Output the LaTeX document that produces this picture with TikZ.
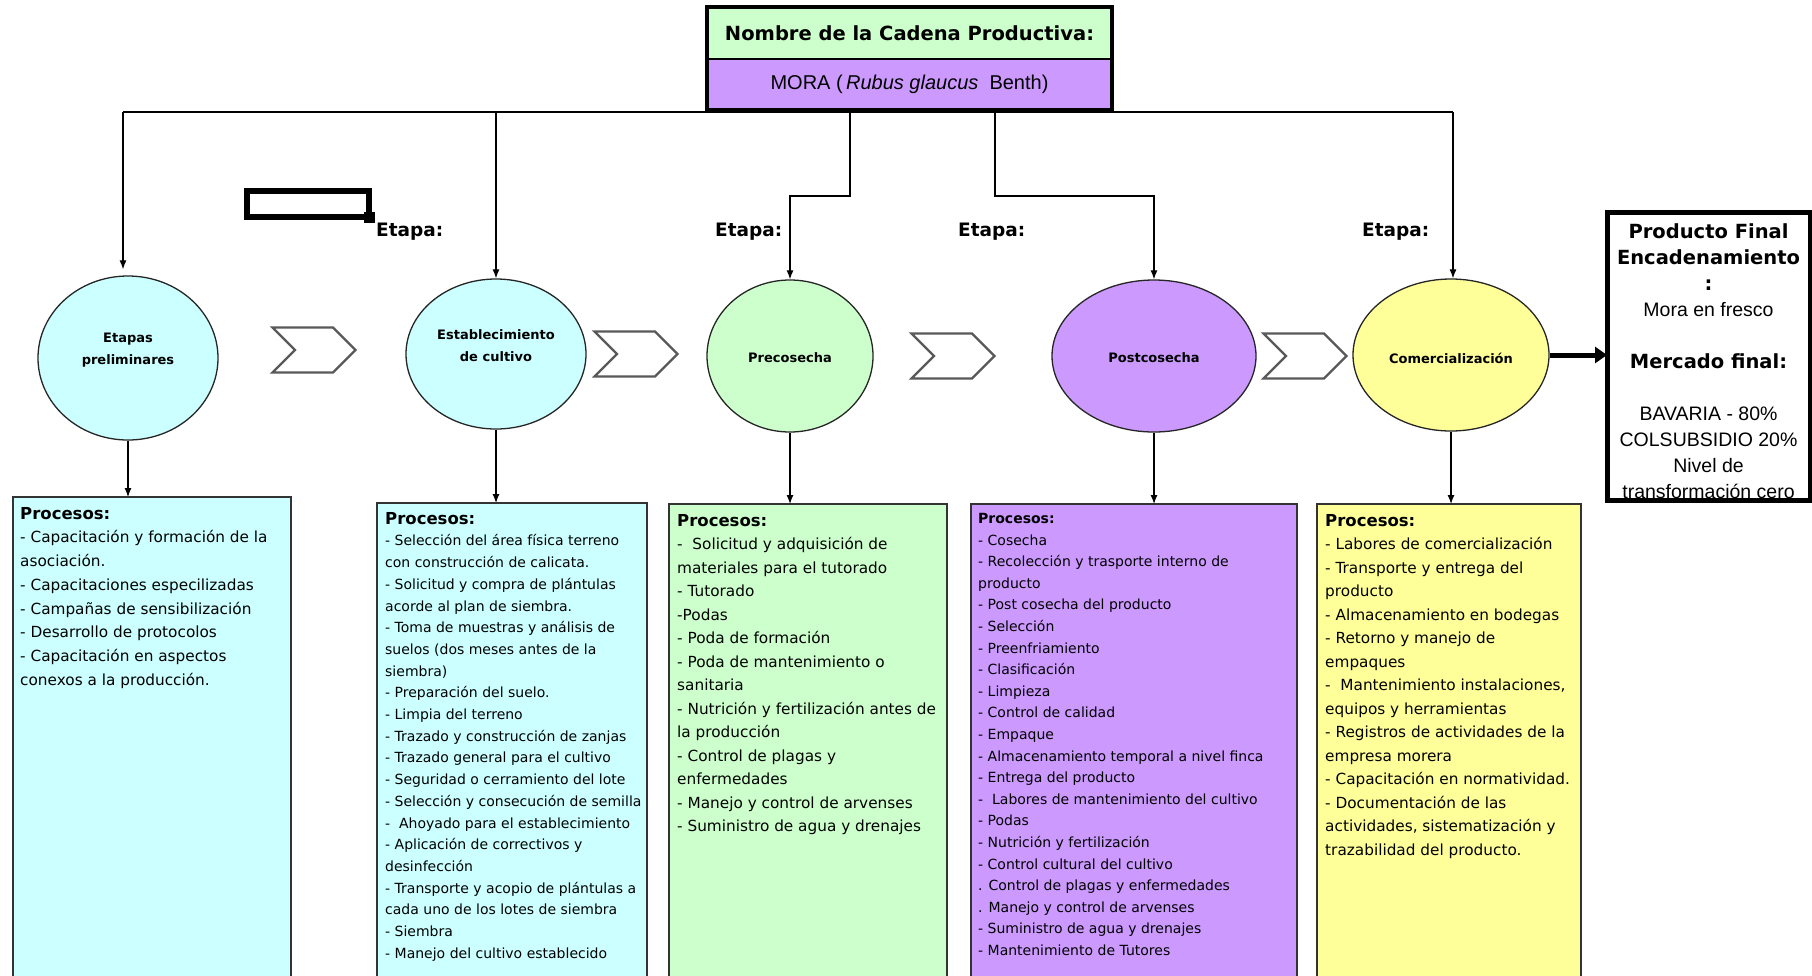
\documentclass[tikz,border=0pt]{standalone}
\usepackage{fontspec}
\setmainfont{DejaVu Sans}
\newfontfamily\arialf{Liberation Sans}
\usepackage{tikz}
\usetikzlibrary{shapes.geometric,shapes.symbols,arrows.meta,positioning,calc}

\definecolor{celeste}{RGB}{204,255,255}
\definecolor{verdeclaro}{RGB}{204,255,204}
\definecolor{lila}{RGB}{204,153,255}
\definecolor{amarillo}{RGB}{255,255,153}

\newcommand{\encab}[1]{{\fontsize{16.5}{23.7}\selectfont\bfseries #1}}

\begin{document}
\begin{tikzpicture}[x=1pt, y=-1pt,
    etapa/.style={ellipse, draw=black!85, line width=1.3pt, inner sep=0pt},
    etiq/.style={align=center, inner sep=0pt, font=\fontsize{13}{22}\selectfont\bfseries},
    flecha/.style={signal, signal from=west, signal to=east, draw=black!65, line width=2.2pt, fill=white, minimum width=83pt, minimum height=45pt, inner sep=0pt},
    caja/.style={draw=black!80, line width=1.8pt, anchor=north west, inner sep=0pt, outer sep=0pt},
    texto/.style={anchor=north west, inner sep=0pt, align=left},
    rotulo/.style={anchor=base west, inner sep=0pt, font=\fontsize{18.5}{22}\selectfont\bfseries},
    conn/.style={line width=1.2pt, -{Latex[length=9pt, width=7pt]}},
    linea/.style={line width=1.2pt}]
    \path[use as bounding box, fill=white] (0,0) rectangle (1812,975);

    % Ramas desde la cadena
    \coordinate (hl) at (123,112);
    \coordinate (hr) at (1453,112);
    \coordinate (r3) at (850,112);
    \coordinate (r4) at (995,112);
    \draw[linea] (hl) -- (hr);

    % Nombre de la cadena
    \node[draw=black, line width=1.5pt, outer sep=0pt, fill=verdeclaro, minimum width=405pt, minimum height=52pt, anchor=north west, font=\fontsize{19.5}{22}\selectfont\bfseries] (cadena) at (707,7) {Nombre de la Cadena Productiva:};
    \node[draw=black, line width=1.5pt, outer sep=0pt, fill=lila, minimum width=405pt, minimum height=51pt, anchor=north west, font=\arialf\fontsize{20}{22}\selectfont] (mora) at (cadena.south west) {MORA (\,\textit{Rubus glaucus}\ \ Benth)};
    \draw[line width=4pt] (cadena.north west) rectangle (mora.south east);

    % Etapas
    \node[etapa, fill=celeste, minimum width=180pt, minimum height=164pt, label={[etiq, yshift=8pt]center:Etapas\\preliminares}] (e1) at (128,358) {};
    \node[etapa, fill=celeste, minimum width=180pt, minimum height=150pt, label={[etiq, yshift=8pt]center:Establecimiento\\de cultivo}] (e2) at (496,354) {};
    \node[etapa, fill=verdeclaro, minimum width=166pt, minimum height=152pt, label={[etiq, yshift=-2pt]center:Precosecha}] (e3) at (790,356) {};
    \node[etapa, fill=lila, minimum width=204pt, minimum height=152pt, label={[etiq, yshift=-2pt]center:Postcosecha}] (e4) at (1154,356) {};
    \node[etapa, fill=amarillo, minimum width=196pt, minimum height=152pt, label={[etiq, yshift=-3pt]center:Comercialización}] (e5) at (1451,355) {};

    \draw[conn, shorten >=6pt] (hl) -- (hl |- e1.north);
    \draw[conn] (e2.north |- hl) -- (e2.north);
    \draw[conn] (r3) -- ++(0,84) -| (e3.north);
    \draw[conn] (r4) -- ++(0,84) -| (e4.north);
    \draw[conn] (hr) -- (hr |- e5.north);

    % Flechas entre etapas
    \node[flecha] (c1) at (314,350) {};
    \node[flecha] (c2) at (636,354) {};
    \node[flecha] (c3) at (953,356) {};
    \node[flecha] (c4) at (1305,356) {};

    \node[rotulo] (et1) at (376,236) {Etapa:};
    \node[rotulo] (et2) at (715,236) {Etapa:};
    \node[rotulo] (et3) at (958,236) {Etapa:};
    \node[rotulo] (et4) at (1362,236) {Etapa:};

    \node[draw, line width=6pt, outer sep=0pt, minimum width=122pt, minimum height=26pt, anchor=north west, inner sep=0pt] (marco) at (247,191) {};
    \node[fill=black, minimum size=11pt, inner sep=0pt] (asa) at (marco.south east) {};

    % Procesos
    \node[caja, fill=celeste, minimum width=278pt, minimum height=495pt] (p1) at (13,497) {};
    \node[caja, fill=celeste, minimum width=270pt, minimum height=490pt] (p2) at (377,503) {};
    \node[caja, fill=verdeclaro, minimum width=278pt, minimum height=490pt] (p3) at (669,504) {};
    \node[caja, fill=lila, minimum width=326pt, minimum height=490pt] (p4) at (971,504) {};
    \node[caja, fill=amarillo, minimum width=264pt, minimum height=490pt] (p5) at (1317,504) {};

    \draw[conn] (e1.south) -- (e1.south |- p1.north);
    \draw[conn] (e2.south) -- (e2.south |- p2.north);
    \draw[conn] (e3.south) -- (e3.south |- p3.north);
    \draw[conn] (e4.south) -- (e4.south |- p4.north);
    \draw[conn] (e5.south) -- (e5.south |- p5.north);

    \node[texto, font=\fontsize{15.3}{23.7}\selectfont] (t1) at ($(p1.north west)+(7,10)$) {\encab{Procesos:}\\- Capacitación y formación de la\\asociación.\\- Capacitaciones especilizadas\\- Campañas de sensibilización\\- Desarrollo de protocolos\\- Capacitación en aspectos\\conexos a la producción.};
    \node[texto, font=\fontsize{14}{21.7}\selectfont] (t2) at ($(p2.north west)+(8,9)$) {\encab{Procesos:}\\- Selección del área física terreno\\con construcción de calicata.\\- Solicitud y compra de plántulas\\acorde al plan de siembra.\\- Toma de muestras y análisis de\\suelos (dos meses antes de la\\siembra)\\- Preparación del suelo.\\- Limpia del terreno\\- Trazado y construcción de zanjas\\- Trazado general para el cultivo\\- Seguridad o cerramiento del lote\\- Selección y consecución de semilla\\-\ \ Ahoyado para el establecimiento\\- Aplicación de correctivos y\\desinfección\\- Transporte y acopio de plántulas a\\cada uno de los lotes de siembra\\- Siembra\\- Manejo del cultivo establecido};
    \node[texto, font=\fontsize{15.3}{23.5}\selectfont] (t3) at ($(p3.north west)+(8,10)$) {\encab{Procesos:}\\-\ \ Solicitud y adquisición de\\materiales para el tutorado\\- Tutorado\\-Podas\\- Poda de formación\\- Poda de mantenimiento o\\sanitaria\\- Nutrición y fertilización antes de\\la producción\\- Control de plagas y\\enfermedades\\- Manejo y control de arvenses\\- Suministro de agua y drenajes};
    \node[texto, font=\fontsize{14}{21.6}\selectfont] (t4) at ($(p4.north west)+(7,9)$) {{\bfseries Procesos:}\\- Cosecha\\- Recolección y trasporte interno de\\producto\\- Post cosecha del producto\\- Selección\\- Preenfriamiento\\- Clasificación\\- Limpieza\\- Control de calidad\\- Empaque\\- Almacenamiento temporal a nivel finca\\- Entrega del producto\\-\ \ Labores de mantenimiento del cultivo\\- Podas\\- Nutrición y fertilización\\- Control cultural del cultivo\\. Control de plagas y enfermedades\\. Manejo y control de arvenses\\- Suministro de agua y drenajes\\- Mantenimiento de Tutores};
    \node[texto, font=\fontsize{15.3}{23.5}\selectfont] (t5) at ($(p5.north west)+(8,10)$) {\encab{Procesos:}\\- Labores de comercialización\\- Transporte y entrega del\\producto\\- Almacenamiento en bodegas\\- Retorno y manejo de\\empaques\\-\ \ Mantenimiento instalaciones,\\equipos y herramientas\\- Registros de actividades de la\\empresa morera\\- Capacitación en normatividad.\\- Documentación de las\\actividades, sistematización y\\trazabilidad del producto.};

    % Producto final
    \node[draw, line width=5pt, outer sep=0pt, fill=white, minimum width=203pt, minimum height=288pt, anchor=north west, inner sep=0pt] (final) at (1607,212) {};
    \begin{scope}
        \clip (final.south west) rectangle (final.north east);
        \node[anchor=north, align=center, inner sep=0pt, font=\fontsize{19.5}{26.2}\selectfont] (ftxt) at ($(final.north)+(0,11)$) {\textbf{Producto Final}\\\textbf{Encadenamiento}\\\textbf{:}\\{\arialf Mora en fresco}\\[26pt]\textbf{Mercado final:}\\[25pt]{\arialf BAVARIA - 80\%}\\{\arialf COLSUBSIDIO 20\%}\\{\arialf Nivel de}\\{\arialf transformación cero}};
    \end{scope}
    \draw[line width=5pt] (final.south west) rectangle (final.north east);
    \draw[line width=5pt, -{Triangle[length=12pt, width=16pt]}] (e5.east) -- (e5.east -| final.west);
\end{tikzpicture}
\end{document}
